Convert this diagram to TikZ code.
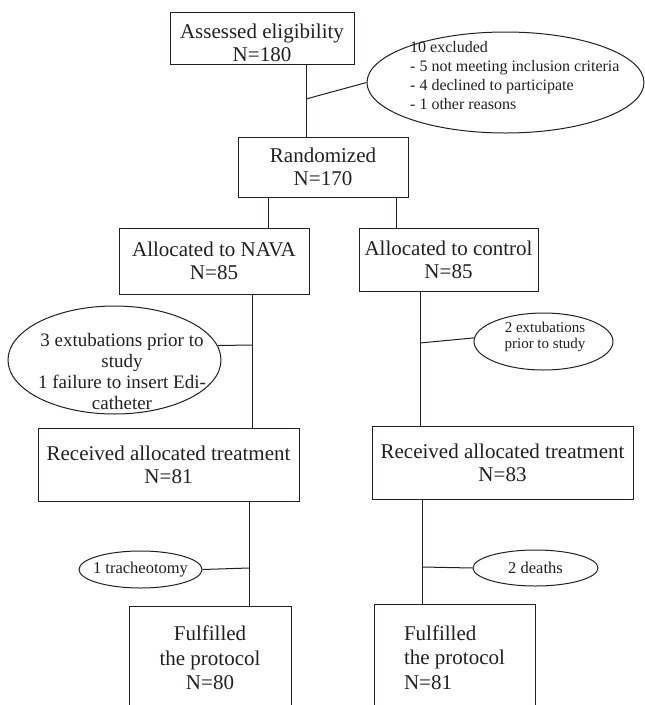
\documentclass[tikz,border=0pt]{standalone}
\usepackage{fontspec}
\setmainfont{Liberation Serif}
\usetikzlibrary{shapes.geometric}

\definecolor{ink}{HTML}{231F20}
\tikzset{
    box/.style={draw=ink, text=ink, line width=1pt, align=center, inner sep=0pt,
        font=\fontsize{21}{23}\selectfont},
    oval/.style={draw=ink, text=ink, ellipse, line width=1pt, align=center, inner sep=-40pt},
    link/.style={draw=ink, line width=1pt}
}

\begin{document}
\begin{tikzpicture}[x=1pt, y=-1pt]
    \useasboundingbox (0,0) rectangle (645,705);
    \clip (0,0) rectangle (645,705);

    % Enrolment
    \node[box, minimum width=184, minimum height=52] (assess) at (262,38) {\rule{0pt}{25pt}Assessed eligibility\\N=180};
    \node[box, minimum width=170, minimum height=60] (rand) at (323,167) {Randomized\\N=170};
    \node[oval, minimum width=277, minimum height=101] (excl) at (505.5,82.5) {};
    \node[text=ink, align=left, anchor=west, inner sep=0pt, font=\fontsize{16}{19}\selectfont] (excltxt) at (410,75.5)
        {10 excluded\\- 5 not meeting inclusion criteria\\- 4 declined to participate\\- 1 other reasons};

    % NAVA arm (left)
    \node[box, minimum width=190, minimum height=66] (nava) at (214,261) {Allocated to NAVA\\N=85};
    \node[oval, minimum width=213, minimum height=108] (ex1) at (114.5,360) {};
    \node[text=ink, align=center, inner sep=0pt, font=\fontsize{19}{21}\selectfont] (ex1txt) at (122,371)
        {3 extubations prior to\\study\\1 failure to insert Edi-\\catheter};
    \node[box, minimum width=261, minimum height=73] (recv1) at (168.5,464.5) {Received allocated treatment\\N=81};
    \node[oval, minimum width=123, minimum height=37, font=\fontsize{16.5}{18}\selectfont] (tr) at (140.5,569.5) {1 tracheotomy};
    \node[box, minimum width=162, minimum height=104, font=\fontsize{21}{24.5}\selectfont] (ful1) at (210,658)
        {Fulfilled\\the protocol\\N=80};

    % Control arm (right)
    \node[box, minimum width=179, minimum height=63] (ctrl) at (448.5,259.5) {Allocated to control\\N=85};
    \node[oval, minimum width=139, minimum height=57] (ex2) at (543.5,341.5) {};
    \node[text=ink, align=center, inner sep=0pt, font=\fontsize{15}{16.8}\selectfont] (ex2txt) at (545,337)
        {2 extubations\\prior to study};
    \node[box, minimum width=261, minimum height=73] (recv2) at (502.5,462.5) {Received allocated treatment\\N=83};
    \node[oval, minimum width=125, minimum height=36, font=\fontsize{16.5}{18}\selectfont] (dth) at (535.5,568) {2 deaths};
    \node[box, minimum width=161, minimum height=107, align=left, font=\fontsize{21}{24.5}\selectfont] (ful2) at (454.5,657.5)
        {Fulfilled\\the protocol\\N=81};

    % Junctions on the vertical lines
    \coordinate (j1) at (306,99);
    \coordinate (sL) at (268,210);
    \coordinate (sR) at (396,210);
    \coordinate (j2) at (252,345);
    \coordinate (j3) at (420,343);
    \coordinate (j4) at (249,568);
    \coordinate (j5) at (422,567);

    \draw[link] (assess.south -| j1) -- (rand.north -| j1);
    \draw[link] (j1) -- (excl.west);
    \draw[link] (rand.south -| sL) -- (nava.north -| sL);
    \draw[link] (rand.south -| sR) -- (ctrl.north -| sR);

    \draw[link] (nava.south -| j2) -- (recv1.north -| j2);
    \draw[link] (j2) -- (ex1.8);
    \draw[link] (recv1.south -| j4) -- (ful1.north -| j4);
    \draw[link] (j4) -- (tr.east);

    \draw[link] (ctrl.south -| j3) -- (recv2.north -| j3);
    \draw[link] (j3) -- (ex2.177);
    \draw[link] (recv2.south -| j5) -- (ful2.north -| j5);
    \draw[link] (j5) -- (dth.west);
\end{tikzpicture}
\end{document}
